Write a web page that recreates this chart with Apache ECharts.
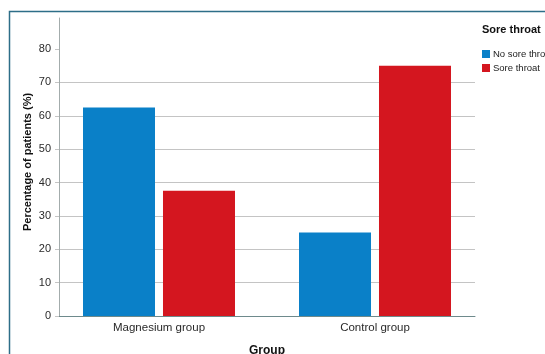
<!DOCTYPE html>
<html>
<head>
<meta charset="utf-8">
<script src="https://cdn.jsdelivr.net/npm/echarts@6/dist/echarts.min.js"></script>
<style>
html,body{margin:0;padding:0;background:#fff;}
#chart{width:545px;height:354px;}
</style>
</head>
<body>
<div id="chart"></div>
<script>
const categories = ['Magnesium group', 'Control group'];
const seriesNames = ['No sore throat', 'Sore throat'];
const noSoreThroat = [62.5, 25];
const soreThroat = [37.5, 75];
const yTicks = [0, 10, 20, 30, 40, 50, 60, 70, 80];
const yMax = 89.3;

const FONT = 'Liberation Sans, Arial, sans-serif';
const chart = echarts.init(document.getElementById('chart'), null, {renderer: 'canvas'});

const option = {
  animation: false,
  backgroundColor: '#ffffff',
  grid: [
    {left: 51, width: 432, top: 18, height: 298},
    {left: 59, width: 416, top: 18, height: 298}
  ],
  xAxis: [
    {
      type: 'category', gridIndex: 0, data: categories,
      axisLine: {show: false}, axisTick: {show: false},
      axisLabel: {color: '#2a2a2a', fontFamily: FONT, fontSize: 11.5, margin: 6}
    },
    {
      type: 'value', gridIndex: 1, min: 0, max: 1,
      axisLine: {show: true, lineStyle: {color: '#6e8a8c', width: 1}},
      axisTick: {show: false}, axisLabel: {show: false}, splitLine: {show: false}
    }
  ],
  yAxis: [
    {type: 'value', gridIndex: 0, min: 0, max: yMax, show: false},
    {
      type: 'value', gridIndex: 1, min: 0, max: yMax, interval: 10,
      axisLine: {show: true, lineStyle: {color: '#a3acac', width: 1}},
      axisTick: {show: true, inside: false, length: 4, customValues: yTicks, lineStyle: {color: '#c4c4c4'}},
      axisLabel: {
        customValues: yTicks, color: '#2a2a2a', fontFamily: FONT, fontSize: 11, margin: 8,
        formatter: v => (Math.abs(v % 10) < 1e-9 ? String(v) : '')
      },
      splitLine: {show: true, showMaxLine: false, lineStyle: {color: '#c4c4c4', width: 1}}
    }
  ],
  legend: {
    orient: 'vertical', left: 477, top: 44,
    itemWidth: 8, itemHeight: 8, itemGap: 4, icon: 'rect',
    data: seriesNames,
    textStyle: {fontFamily: FONT, fontSize: 9.5, color: '#222', padding: [0, 0, 0, -2]}
  },
  series: [
    {
      name: seriesNames[0], type: 'bar', xAxisIndex: 0, yAxisIndex: 0,
      data: noSoreThroat, barWidth: 72, barGap: '11.1%',
      itemStyle: {color: '#0a80c8'}
    },
    {
      name: seriesNames[1], type: 'bar', xAxisIndex: 0, yAxisIndex: 0,
      data: soreThroat, barWidth: 72, barGap: '11.1%',
      itemStyle: {color: '#d4161f'}
    }
  ],
  graphic: [
    {
      type: 'rect', silent: true, z: 100,
      shape: {x: 9.5, y: 11.5, width: 700, height: 500},
      style: {fill: 'none', stroke: '#2d6e88', lineWidth: 1.5}
    },
    {
      type: 'text', x: 27.5, y: 162, rotation: Math.PI / 2,
      style: {text: 'Percentage of patients (%)', font: 'bold 11px ' + FONT, fill: '#111', align: 'center', verticalAlign: 'middle'}
    },
    {
      type: 'text', x: 267, y: 345,
      style: {text: 'Group', font: 'bold 12px ' + FONT, fill: '#111', align: 'center', verticalAlign: 'top'}
    },
    {
      type: 'text', x: 482, y: 30,
      style: {text: 'Sore throat', font: 'bold 11px ' + FONT, fill: '#111', align: 'left', verticalAlign: 'middle'}
    }
  ]
};
chart.setOption(option);
</script>
</body>
</html>
